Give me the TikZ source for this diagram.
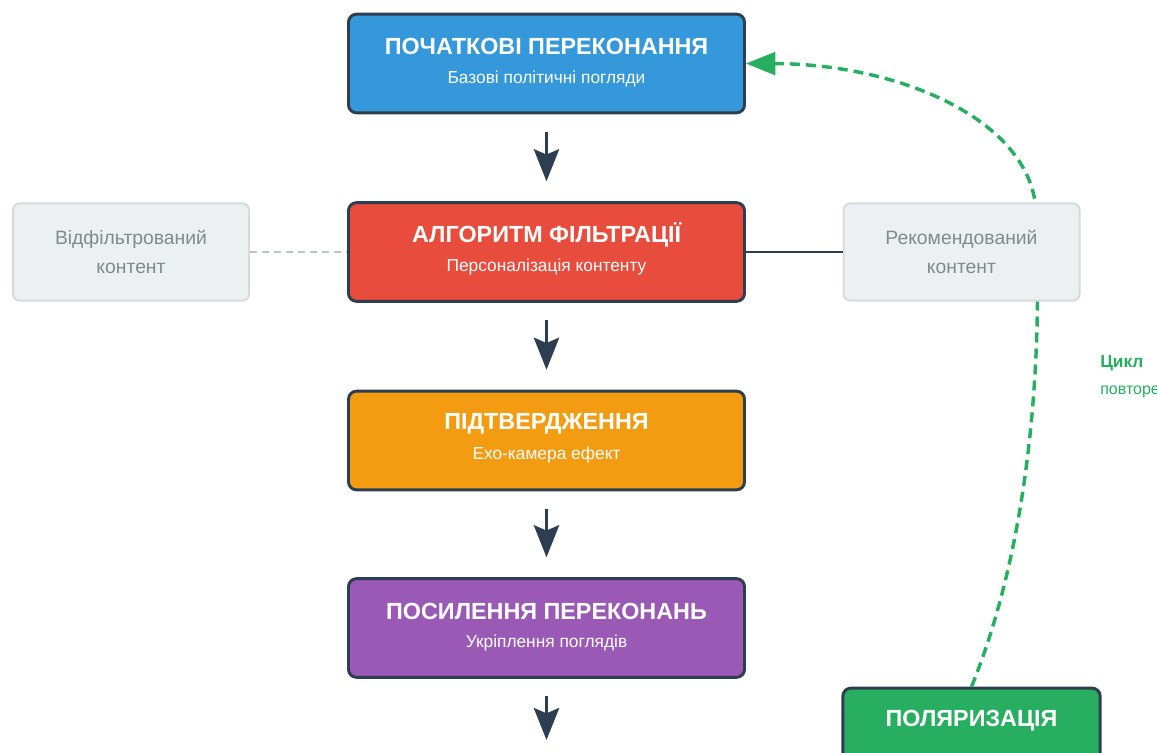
\documentclass[tikz,border=0pt]{standalone}
\usepackage{fontspec}
\setmainfont{Liberation Sans}
\usepackage{tikz}
\usetikzlibrary{calc,arrows.meta,positioning}
\definecolor{inkc}{HTML}{2C3E50}
\definecolor{bluec}{HTML}{3498DB}
\definecolor{redc}{HTML}{E74C3C}
\definecolor{orac}{HTML}{F39C12}
\definecolor{purc}{HTML}{9B59B6}
\definecolor{grnc}{HTML}{27AE60}
\definecolor{greybg}{HTML}{ECF0F1}
\definecolor{greyln}{HTML}{D5DBDD}
\definecolor{greydash}{HTML}{BDC3C7}
\definecolor{greytx}{HTML}{7F8C8D}
\tikzset{
  ar/.style={-{Stealth[length=24pt,width=19pt,inset=4pt]},line width=2.2pt,inkc,shorten <=13pt,shorten >=15pt},
  stagebox/.style={draw=inkc,line width=2.2pt,rounded corners=6pt,minimum width=297pt,minimum height=74pt},
  sidebox/.style={draw=greyln,line width=1.5pt,rounded corners=5pt,fill=greybg,minimum width=177pt,minimum height=73pt,align=center,text=greytx,font=\fontsize{14.5}{21.5}\selectfont},
  ttl/.style={text=white,font=\fontsize{17.5}{20}\selectfont\bfseries},
  subtx/.style={text=white,font=\fontsize{13}{15}\selectfont},
  loopar/.style={-{Triangle[length=22pt,width=17pt]},grnc,line width=2.6pt,dash pattern=on 7.5pt off 4.5pt}
}
\newcommand{\stage}[5]{%
  \node[stagebox,fill=#3] (#1) at (546.5,#2) {};
  \node[ttl] (#1t) at ($(#1)+(0,-17)$) {#4};
  \node[subtx] (#1s) at ($(#1)+(0,15)$) {#5};
}
\begin{document}
\begin{tikzpicture}[x=0.75pt,y=-0.75pt]
\useasboundingbox (0,0) rectangle (1157,753);
\clip (0,0) rectangle (1157,753);
\stage{beg}{63.5}{bluec}{ПОЧАТКОВІ ПЕРЕКОНАННЯ}{Базові політичні погляди}
\stage{alg}{252}{redc}{АЛГОРИТМ ФІЛЬТРАЦІЇ}{Персоналізація контенту}
\stage{conf}{440.5}{orac}{ПІДТВЕРДЖЕННЯ}{Ехо-камера ефект}
\stage{reinf}{628}{purc}{ПОСИЛЕННЯ ПЕРЕКОНАНЬ}{Укріплення поглядів}
\node[stagebox,fill=grnc,minimum width=193pt] (pol) at (971.5,737.5) {};
\node[ttl] (polt) at ($(pol)+(0,-17)$) {ПОЛЯРИЗАЦІЯ};
\coordinate (bend) at (1036,210);
\draw[loopar] (pol.north) .. controls (1015,580) and (1045,420) .. (bend) .. controls (1030,120) and (900,64) .. (beg.east);
\node[sidebox] (filt) at (131,252) {Відфільтрований\\контент};
\node[sidebox] (rec) at (961.5,252) {Рекомендований\\контент};
\draw[greydash,line width=1.5pt,dash pattern=on 5pt off 4pt] (filt) -- (alg);
\draw[inkc,line width=1.5pt] (alg) -- (rec);
\draw[ar] (beg) -- (alg);
\draw[ar] (alg) -- (conf);
\draw[ar] (conf) -- (reinf);
\coordinate (nxt) at (546.5,740);
\draw[ar,shorten >=0pt] (reinf) -- (nxt);
\node[anchor=west,align=left,inner sep=0pt,text=grnc,font=\fontsize{12}{20}\selectfont] (cyc) at (1100,377) {{\fontsize{13}{20}\selectfont\bfseries Цикл}\\повторення};
\end{tikzpicture}
\end{document}
